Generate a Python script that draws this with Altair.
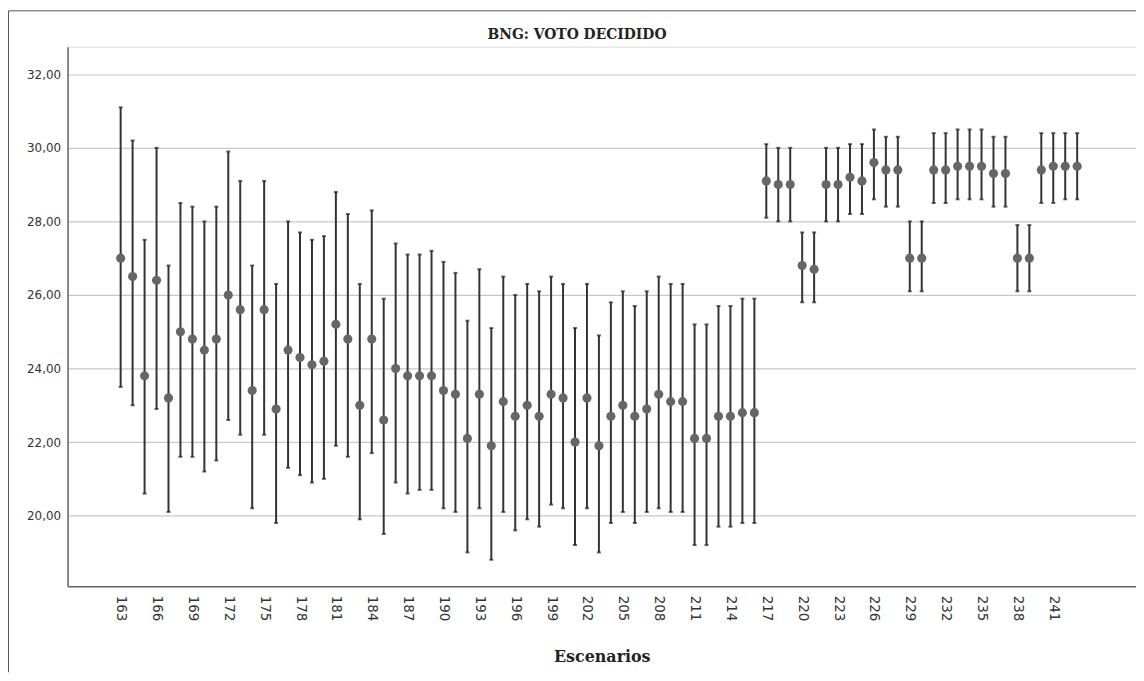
import altair as alt
import pandas as pd

scenarios = list(range(163, 244))

means = [
    27.0, 26.5, 23.8, 26.4, 23.2, 25.0, 24.8, 24.5, 24.8, 26.0,
    25.6, 23.4, 25.6, 22.9, 24.5, 24.3, 24.1, 24.2, 25.2, 24.8,
    23.0, 24.8, 22.6, 24.0, 23.8, 23.8, 23.8, 23.4, 23.3, 22.1,
    23.3, 21.9, 23.1, 22.7, 23.0, 22.7, 23.3, 23.2, 22.0, 23.2,
    21.9, 22.7, 23.0, 22.7, 22.9, 23.3, 23.1, 23.1, 22.1, 22.1,
    22.7, 22.7, 22.8, 22.8,
    29.1, 29.0, 29.0, 26.8, 26.7, 29.0, 29.0, 29.2, 29.1, 29.6,
    29.4, 29.4, 27.0, 27.0, 29.4, 29.4, 29.5, 29.5, 29.5, 29.3,
    29.3, 27.0, 27.0, 29.4, 29.5, 29.5, 29.5,
]

lower = [
    23.5, 23.0, 20.6, 22.9, 20.1, 21.6, 21.6, 21.2, 21.5, 22.6,
    22.2, 20.2, 22.2, 19.8, 21.3, 21.1, 20.9, 21.0, 21.9, 21.6,
    19.9, 21.7, 19.5, 20.9, 20.6, 20.7, 20.7, 20.2, 20.1, 19.0,
    20.2, 18.8, 20.1, 19.6, 19.9, 19.7, 20.3, 20.2, 19.2, 20.2,
    19.0, 19.8, 20.1, 19.8, 20.1, 20.2, 20.1, 20.1, 19.2, 19.2,
    19.7, 19.7, 19.8, 19.8,
    28.1, 28.0, 28.0, 25.8, 25.8, 28.0, 28.0, 28.2, 28.2, 28.6,
    28.4, 28.4, 26.1, 26.1, 28.5, 28.5, 28.6, 28.6, 28.6, 28.4,
    28.4, 26.1, 26.1, 28.5, 28.5, 28.6, 28.6,
]

upper = [
    31.1, 30.2, 27.5, 30.0, 26.8, 28.5, 28.4, 28.0, 28.4, 29.9,
    29.1, 26.8, 29.1, 26.3, 28.0, 27.7, 27.5, 27.6, 28.8, 28.2,
    26.3, 28.3, 25.9, 27.4, 27.1, 27.1, 27.2, 26.9, 26.6, 25.3,
    26.7, 25.1, 26.5, 26.0, 26.3, 26.1, 26.5, 26.3, 25.1, 26.3,
    24.9, 25.8, 26.1, 25.7, 26.1, 26.5, 26.3, 26.3, 25.2, 25.2,
    25.7, 25.7, 25.9, 25.9,
    30.1, 30.0, 30.0, 27.7, 27.7, 30.0, 30.0, 30.1, 30.1, 30.5,
    30.3, 30.3, 28.0, 28.0, 30.4, 30.4, 30.5, 30.5, 30.5, 30.3,
    30.3, 27.9, 27.9, 30.4, 30.4, 30.4, 30.4,
]

x_tick_values = list(range(163, 242, 3))
y_tick_values = [20, 22, 24, 26, 28, 30, 32]
chart_title = "BNG: VOTO DECIDIDO"

df = pd.DataFrame({"esc": scenarios, "mean": means, "lo": lower, "hi": upper})

x_scale = alt.Scale(domain=[158.56, 247.92], nice=False, zero=False)
y_scale = alt.Scale(domain=[18.08, 32.75], nice=False, zero=False)

x_axis = alt.Axis(
    values=x_tick_values,
    format="d",
    labelAngle=90,
    labelAlign="left",
    labelBaseline="middle",
    labelFont="DejaVu Sans",
    labelFontSize=13.5,
    labelColor="#333333",
    labelPadding=9,
    ticks=False,
    grid=False,
    domainColor="#666666",
    domainWidth=1.5,
    title="Escenarios",
    titleFont="DejaVu Serif",
    titleFontSize=16,
    titleFontWeight="bold",
    titleColor="#222222",
    titleBaseline="alphabetic",
    titleY=76,
    labelOverlap=False,
)

y_axis = alt.Axis(
    values=y_tick_values,
    labelExpr="replace(format(datum.value, '.2f'), '.', ',')",
    labelFont="DejaVu Sans",
    labelFontSize=12,
    labelColor="#333333",
    labelPadding=7,
    ticks=False,
    grid=True,
    gridColor="#c8c8c8",
    gridWidth=1.2,
    domainColor="#666666",
    domainWidth=1.5,
    title=None,
)

base = alt.Chart(df)

bars = base.mark_rule(color="#333333", strokeWidth=2).encode(
    x=alt.X("esc:Q", scale=x_scale, axis=x_axis),
    y=alt.Y("lo:Q", scale=y_scale, axis=y_axis),
    y2="hi:Q",
)

caps_hi = base.mark_tick(color="#222222", orient="horizontal", size=4, thickness=2).encode(
    x=alt.X("esc:Q", scale=x_scale),
    y=alt.Y("hi:Q", scale=y_scale),
)
caps_lo = base.mark_tick(color="#222222", orient="horizontal", size=4, thickness=2).encode(
    x=alt.X("esc:Q", scale=x_scale),
    y=alt.Y("lo:Q", scale=y_scale),
)

dots = base.mark_circle(color="#666666", opacity=1, size=85).encode(
    x=alt.X("esc:Q", scale=x_scale),
    y=alt.Y("mean:Q", scale=y_scale),
)

one = pd.DataFrame({"t": [chart_title]})

frame_left = alt.Chart(one).mark_rule(
    color="#555555", strokeWidth=1, clip=False
).encode(x=alt.value(-59.5), y=alt.value(-36.1), y2=alt.value(630))
frame_top = alt.Chart(one).mark_rule(
    color="#555555", strokeWidth=1, clip=False
).encode(x=alt.value(-59.5), x2=alt.value(1076), y=alt.value(-36.1))

title_mark = alt.Chart(one).mark_text(
    font="DejaVu Serif",
    fontSize=14,
    fontWeight="bold",
    color="#222222",
    align="center",
    baseline="alphabetic",
    clip=False,
).encode(text="t:N", x=alt.value(513), y=alt.value(-8))

chart = (
    alt.layer(bars, caps_hi, caps_lo, dots, frame_left, frame_top, title_mark)
    .properties(
        width=1076,
        height=543.4,
        padding={"left": 60, "top": 36.6, "right": 0, "bottom": 85},
        autosize=alt.AutoSizeParams(type="none"),
    )
    .configure_view(stroke=None)
    .configure(background="white")
)

chart.save("out.html", embed_options={"renderer": "svg", "actions": False})
